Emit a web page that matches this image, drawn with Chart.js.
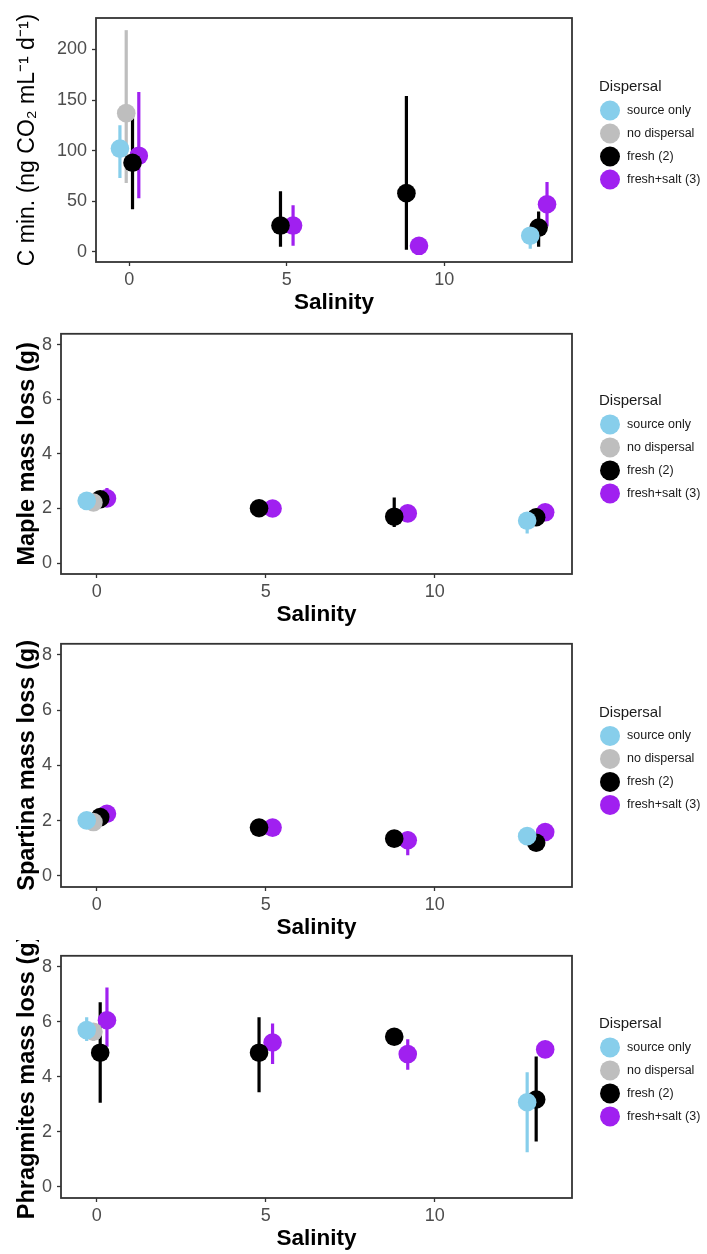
<!DOCTYPE html>
<html>
<head>
<meta charset="utf-8">
<script src="https://cdn.jsdelivr.net/npm/chart.js@4.4.1/dist/chart.umd.min.js"></script>
<style>
  html, body { margin: 0; padding: 0; background: #fff; }
  #wrap { position: relative; width: 707px; height: 1254px; overflow: hidden; }
  #wrap canvas { position: absolute; left: 0; }
</style>
</head>
<body>
<div id="wrap">
  <canvas id="cminChart"></canvas>
  <canvas id="mapleChart"></canvas>
  <canvas id="spartinaChart"></canvas>
  <canvas id="phragChart"></canvas>
</div>
<script>
  'use strict';

  // ---- data (rows: source only, no dispersal, fresh (2), fresh+salt (3))
  const salinity = [0, 5, 9, 13];
  const groups = ['source only', 'no dispersal', 'fresh (2)', 'fresh+salt (3)'];
  const groupColors = ['#87CEEB', '#BEBEBE', '#000000', '#A020F0'];
  const xTicks = [0, 5, 10];
  const cminTicks = [0, 50, 100, 150, 200];
  const massTicks = [0, 2, 4, 6, 8];

  // C mineralisation
  const cminMean = [[102, null, null, 16], [137, null, null, null], [88, 26, 58, 24], [95, 26, 6, 47]];
  const cminLo   = [[73, null, null, 3],   [68, null, null, null],  [42, 5, 2, 5],    [53, 6, 3, 25]];
  const cminHi   = [[125, null, null, 24], [219, null, null, null], [132, 60, 154, 40], [158, 46, 9, 69]];

  // Maple mass loss
  const mapleMean = [[2.28, null, null, 1.55], [2.22, null, null, null], [2.34, 2.01, 1.70, 1.68], [2.37, 2.00, 1.82, 1.86]];
  const mapleLo   = [[2.15, null, null, 1.08], [2.10, null, null, null], [2.20, 1.90, 1.32, 1.55], [2.20, 1.90, 1.70, 1.72]];
  const mapleHi   = [[2.40, null, null, 1.80], [2.35, null, null, null], [2.50, 2.10, 2.40, 1.80], [2.75, 2.10, 1.95, 2.00]];

  // Spartina mass loss
  const spartinaMean = [[2.01, null, null, 1.44], [1.95, null, null, null], [2.13, 1.75, 1.35, 1.20], [2.25, 1.75, 1.29, 1.59]];
  const spartinaLo   = [[1.90, null, null, 1.32], [1.85, null, null, null], [2.00, 1.65, 1.22, 1.08], [2.12, 1.65, 0.75, 1.45]];
  const spartinaHi   = [[2.12, null, null, 1.56], [2.05, null, null, null], [2.26, 1.85, 1.48, 1.32], [2.40, 1.85, 1.60, 1.72]];

  // Phragmites mass loss
  const phragMean = [[5.70, null, null, 3.08], [5.64, null, null, null], [4.88, 4.88, 5.46, 3.18], [6.06, 5.25, 4.83, 5.00]];
  const phragLo   = [[5.30, null, null, 1.26], [5.30, null, null, null], [3.06, 3.44, 5.30, 1.65], [5.10, 4.47, 4.26, 4.75]];
  const phragHi   = [[6.17, null, null, 4.17], [5.90, null, null, null], [6.71, 6.17, 5.60, 4.74], [7.25, 5.94, 5.37, 5.25]];

  const dodgeWidth = 0.8;
  const FONT = '"Liberation Sans", Arial, Helvetica, sans-serif';

  const panels = [
    { id: 'cminChart', top: 0, boxTop: 18, boxBottom: 262, boxLeft: 96, yTitle: 'C min. (ng CO\u2082 mL\u207B\u00B9 d\u207B\u00B9)', bold: false, titlePad: 4,
      mean: cminMean, lo: cminLo, hi: cminHi, yMin: -10, yMax: 231, yTicks: cminTicks },
    { id: 'mapleChart', top: 318, boxTop: 13, boxBottom: 256, boxLeft: 61, yTitle: 'Maple mass loss (g)', bold: true, titlePad: 3,
      mean: mapleMean, lo: mapleLo, hi: mapleHi, yMin: -0.4, yMax: 8.4, yTicks: massTicks },
    { id: 'spartinaChart', top: 628, boxTop: 14.7, boxBottom: 258.7, boxLeft: 61, yTitle: 'Spartina mass loss (g)', bold: true, titlePad: 3,
      mean: spartinaMean, lo: spartinaLo, hi: spartinaHi, yMin: -0.4, yMax: 8.4, yTicks: massTicks },
    { id: 'phragChart', top: 940, boxTop: 14.3, boxBottom: 258.3, boxLeft: 61, yTitle: 'Phragmites mass loss (g)', bold: true, titlePad: 3,
      mean: phragMean, lo: phragLo, hi: phragHi, yMin: -0.4, yMax: 8.4, yTicks: massTicks }
  ];

  const X_AXIS_H = 56;
  const PAD_LEFT = 10;
  const BOX_RIGHT = 572;

  // ggplot-style dodge: spread groups present at a salinity level across dodgeWidth
  function dodge(mean, g, i) {
    const present = mean.map((row, k) => (row[i] != null ? k : -1)).filter(k => k >= 0);
    const n = present.length;
    return (present.indexOf(g) - (n - 1) / 2) * (dodgeWidth / n);
  }

  // panel border on top of the data
  const boxPlugin = {
    id: 'panelBox',
    afterDatasetsDraw(chart) {
      const { ctx, chartArea: a } = chart;
      ctx.save();
      ctx.strokeStyle = '#333333';
      ctx.lineWidth = 1.8;
      ctx.strokeRect(a.left, a.top, a.right - a.left, a.bottom - a.top);
      ctx.restore();
    }
  };

  // legend at the right, vertically centred on the panel
  const legendPlugin = {
    id: 'dispersalLegend',
    afterDraw(chart) {
      const { ctx, chartArea: a } = chart;
      const cy = (a.top + a.bottom) / 2;
      ctx.save();
      ctx.textBaseline = 'middle';
      ctx.textAlign = 'left';
      ctx.fillStyle = '#1a1a1a';
      ctx.font = `15px ${FONT}`;
      ctx.fillText('Dispersal', 599, cy - 53);
      ctx.font = `12.5px ${FONT}`;
      groups.forEach((name, g) => {
        const y = cy - 29.5 + g * 23;
        ctx.fillStyle = groupColors[g];
        ctx.beginPath();
        ctx.arc(610, y, 10, 0, Math.PI * 2);
        ctx.fill();
        ctx.fillStyle = '#1a1a1a';
        ctx.fillText(name, 627, y);
      });
      ctx.restore();
    }
  };

  panels.forEach(p => {
    const canvas = document.getElementById(p.id);
    const h = Math.round(p.boxBottom + X_AXIS_H);
    canvas.width = 707;
    canvas.height = h;
    canvas.style.top = p.top + 'px';
    canvas.style.width = '707px';
    canvas.style.height = h + 'px';

    const bars = groups.map((name, g) => ({
      type: 'line',
      label: name + ' range',
      data: salinity.flatMap((s, i) => {
        if (p.mean[g][i] == null) return [];
        const x = s + dodge(p.mean, g, i);
        return [{ x, y: p.lo[g][i] }, { x, y: p.hi[g][i] }, { x, y: null }];
      }),
      borderColor: groupColors[g],
      borderWidth: 3.2,
      borderCapStyle: 'butt',
      pointRadius: 0,
      spanGaps: false,
      fill: false,
      order: 1
    }));

    const points = groups.map((name, g) => ({
      type: 'scatter',
      label: name,
      data: salinity
        .map((s, i) => (p.mean[g][i] == null ? null : { x: s + dodge(p.mean, g, i), y: p.mean[g][i] }))
        .filter(Boolean),
      backgroundColor: groupColors[g],
      borderColor: groupColors[g],
      borderWidth: 0,
      pointRadius: 9.3,
      order: 0
    }));

    new Chart(canvas.getContext('2d'), {
      type: 'scatter',
      data: { datasets: [...bars, ...points] },
      options: {
        responsive: false,
        animation: false,
        devicePixelRatio: 1,
        events: [],
        layout: { padding: { left: PAD_LEFT, right: 707 - BOX_RIGHT, top: p.boxTop, bottom: 0 } },
        plugins: { legend: { display: false }, tooltip: { enabled: false } },
        scales: {
          x: {
            type: 'linear',
            min: -1.06, max: 14.06,
            afterBuildTicks: s => { s.ticks = xTicks.map(v => ({ value: v })); },
            afterFit: s => { s.height = X_AXIS_H; },
            grid: { drawOnChartArea: false, drawTicks: true, tickLength: 4, tickColor: '#333333', tickWidth: 1.3 },
            border: { display: false },
            ticks: { color: '#4D4D4D', padding: 3, font: { family: FONT, size: 18 }, maxRotation: 0 },
            title: { display: true, text: 'Salinity', color: '#000', padding: { top: 0, bottom: 2 },
                     font: { family: FONT, size: 22.5, weight: 'bold' } }
          },
          y: {
            type: 'linear',
            min: p.yMin, max: p.yMax,
            afterBuildTicks: s => { s.ticks = p.yTicks.map(v => ({ value: v })); },
            afterFit: s => { s.width = p.boxLeft - PAD_LEFT; },
            grid: { drawOnChartArea: false, drawTicks: true, tickLength: 4, tickColor: '#333333', tickWidth: 1.3 },
            border: { display: false },
            ticks: { color: '#4D4D4D', padding: 5, font: { family: FONT, size: 18 } },
            title: { display: true, text: p.yTitle, color: '#000', padding: { top: p.titlePad, bottom: 0 },
                     font: { family: FONT, size: p.bold ? 23.5 : 23, weight: p.bold ? 'bold' : 'normal' } }
          }
        }
      },
      plugins: [boxPlugin, legendPlugin]
    });
  });
</script>
</body>
</html>
